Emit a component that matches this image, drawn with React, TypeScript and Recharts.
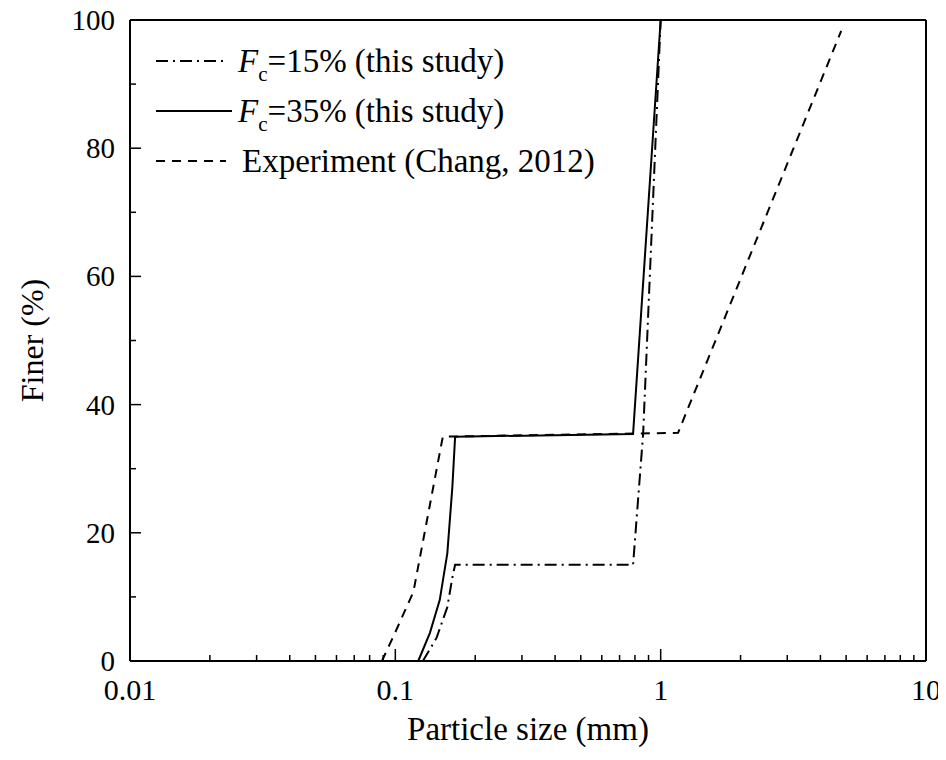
import {
  Legend,
  Line,
  LineChart,
  ReferenceLine,
  XAxis,
  YAxis,
} from "recharts";

const FONT = "Liberation Serif";

// grading curves (particle size in mm, finer in %)
const fc15Size = [0.127, 0.143, 0.157, 0.164, 0.168, 0.787, 0.859, 1.0];
const fc15Finer = [0, 3.6, 8.4, 13, 15, 15, 35.5, 100];

const fc35Size = [0.122, 0.135, 0.147, 0.157, 0.164, 0.168, 0.787, 1.0];
const fc35Finer = [0, 4.4, 9.5, 16.8, 27.1, 35, 35.4, 100];

const expSize = [0.089, 0.1, 0.117, 0.151, 1.163, 4.79];
const expFiner = [0, 4.5, 10.8, 35, 35.6, 98.3];

const xDecades = [0.01, 0.1, 1, 10];
const xMinorSteps = [2, 3, 4, 5, 6, 7, 8, 9];
const yTicks = [0, 10, 20, 30, 40, 50, 60, 70, 80, 90, 100];
const yLabelled = [0, 20, 40, 60, 80, 100];

const SERIES = [
  { key: "fc15", fc: "15", size: fc15Size, finer: fc15Finer, dash: "12 5 2 5" },
  { key: "fc35", fc: "35", size: fc35Size, finer: fc35Finer, dash: undefined },
  { key: "exp", fc: null, size: expSize, finer: expFiner, dash: "9 7" },
];

const toRows = (xs: number[], ys: number[]) => xs.map((x, i) => ({ x, y: ys[i] }));

const xTicks = [
  ...xDecades.slice(0, -1).flatMap((d) => [d, ...xMinorSteps.map((m) => +(d * m).toPrecision(3))]),
  xDecades[xDecades.length - 1],
];

function XTick({ x, y, payload }: any) {
  const major = xDecades.includes(payload.value);
  return (
    <g>
      <line x1={x} x2={x} y1={y} y2={y - (major ? 12 : 6)} stroke="#000" strokeWidth={1.5} />
      {major && (
        <text x={x} y={y + 39} textAnchor="middle" fontSize={30} fontFamily={FONT} fill="#000">
          {String(payload.value)}
        </text>
      )}
    </g>
  );
}

function YTick({ x, y, payload }: any) {
  const major = yLabelled.includes(payload.value);
  return (
    <g>
      <line x1={x} x2={x + (major ? 11 : 6)} y1={y} y2={y} stroke="#000" strokeWidth={1.5} />
      {major && (
        <text x={x - 15} y={y + 10} textAnchor="end" fontSize={29} fontFamily={FONT} fill="#000">
          {payload.value}
        </text>
      )}
    </g>
  );
}

function LegendBox() {
  return (
    <svg width={480} height={150} style={{ display: "block" }}>
      {SERIES.map((s, i) => {
        const cy = 26 + i * 50;
        return (
          <g key={s.key}>
            <line
              x1={6}
              x2={s.dash ? 76 : 82}
              y1={cy}
              y2={cy}
              stroke="#000"
              strokeWidth={2}
              strokeDasharray={s.dash}
            />
            <text x={s.fc ? 88 : 92} y={cy + 11} fontSize={33} fontFamily={FONT} fill="#000">
              {s.fc ? (
                <>
                  <tspan fontStyle="italic">F</tspan>
                  <tspan fontSize={21} dy={9}>c</tspan>
                  <tspan dy={-9}>={s.fc}% (this study)</tspan>
                </>
              ) : (
                "Experiment (Chang, 2012)"
              )}
            </text>
          </g>
        );
      })}
    </svg>
  );
}

export default function App() {
  return (
    <div style={{ margin: -8, fontFamily: FONT }}>
      <LineChart width={946} height={760} margin={{ top: 20, right: 20, left: 50, bottom: 0 }}>
        <XAxis
          dataKey="x"
          type="number"
          scale="log"
          domain={[0.01, 10]}
          allowDataOverflow
          ticks={xTicks}
          interval={0}
          tick={<XTick />}
          tickLine={false}
          tickSize={0}
          tickMargin={0}
          height={99}
          axisLine={{ stroke: "#000", strokeWidth: 2 }}
          label={({ viewBox }: any) => (
            <text
              x={viewBox.x + viewBox.width / 2}
              y={viewBox.y + 79}
              textAnchor="middle"
              fontSize={33}
              fontFamily={FONT}
              fill="#000"
            >
              Particle size (mm)
            </text>
          )}
        />
        <YAxis
          type="number"
          domain={[0, 100]}
          ticks={yTicks}
          interval={0}
          tick={<YTick />}
          tickLine={false}
          tickSize={0}
          tickMargin={0}
          width={80}
          axisLine={{ stroke: "#000", strokeWidth: 2 }}
          label={({ viewBox }: any) => {
            const cx = 32;
            const cy = viewBox.y + viewBox.height / 2;
            return (
              <text
                x={cx}
                y={cy}
                transform={`rotate(-90 ${cx} ${cy})`}
                textAnchor="middle"
                dominantBaseline="central"
                fontSize={32}
                fontFamily={FONT}
                fill="#000"
              >
                Finer (%)
              </text>
            );
          }}
        />
        <ReferenceLine y={100} stroke="#000" strokeWidth={2} />
        <ReferenceLine x={10} stroke="#000" strokeWidth={2} />
        {SERIES.map((s) => (
          <Line
            key={s.key}
            data={toRows(s.size, s.finer)}
            dataKey="y"
            type="linear"
            stroke="#000"
            strokeWidth={2}
            strokeDasharray={s.dash}
            dot={false}
            activeDot={false}
            isAnimationActive={false}
          />
        ))}
        <Legend
          layout="horizontal"
          verticalAlign="middle"
          align="center"
          content={() => <LegendBox />}
          wrapperStyle={{ left: 150, top: 35, width: 480, height: 150 }}
        />
      </LineChart>
    </div>
  );
}
